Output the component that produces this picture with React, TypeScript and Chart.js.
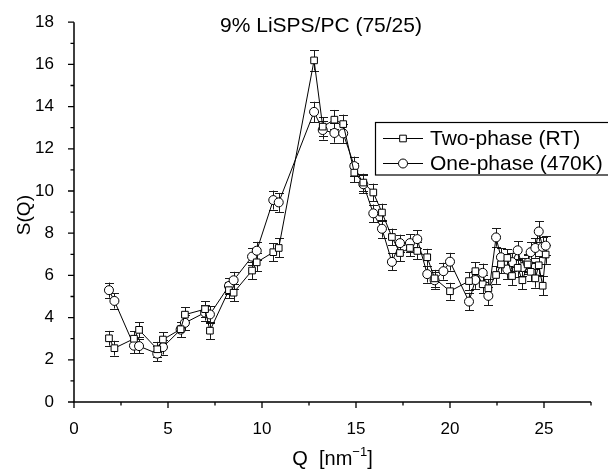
import React, { useEffect, useRef } from "react";
import { Chart, registerables } from "chart.js";

Chart.register(...registerables);

// ---- data ----
const Q = [
  1.86, 2.15, 3.19, 3.46, 4.43, 4.73, 5.67, 5.9, 6.97, 7.23, 8.24, 8.49,
  9.47, 9.72, 10.6, 10.89, 12.77, 13.23, 13.85, 14.32, 14.91, 15.39, 15.92, 16.38,
  16.91, 17.34, 17.87, 18.26, 18.79, 19.18, 19.65, 20.0, 21.01, 21.35, 21.74, 22.04,
  22.45, 22.71, 23.05, 23.3, 23.6, 23.85, 24.13, 24.29, 24.54, 24.72, 24.93, 25.09,
];

const twoPhase: (number | null)[] = [
  3.02, 2.55, 3.0, 3.42, 2.5, 2.96, 3.45, 4.14, 4.4, 3.38, 5.3, 5.18,
  6.23, 6.62, 7.1, 7.3, 16.19, 13.05, 13.38, 13.17, 10.87, 10.4, 9.93, 8.98,
  7.82, 7.06, 7.3, 7.16, 6.86, 5.86, null, 5.25, 5.73, 6.2, 5.58, 5.39,
  6.02, 6.52, 6.83, 5.97, 6.36, 5.77, 6.52, 6.17, 5.86, 6.48, 5.51, 6.99,
];
const twoPhaseErr = [
  0.35, 0.35, 0.35, 0.35, 0.35, 0.35, 0.35, 0.36, 0.38, 0.4, 0.38, 0.4,
  0.4, 0.42, 0.42, 0.45, 0.48, 0.45, 0.46, 0.45, 0.45, 0.42, 0.42, 0.42,
  0.4, 0.4, 0.4, 0.4, 0.4, 0.4, 0.4, 0.4, 0.42, 0.42, 0.42, 0.42,
  0.42, 0.42, 0.42, 0.42, 0.42, 0.42, 0.44, 0.44, 0.44, 0.44, 0.44, 0.44,
];

const onePhase: (number | null)[] = [
  5.3, 4.79, 2.67, 2.65, 2.29, 2.6, 3.43, 3.75, 4.24, 4.15, 5.5, 5.77,
  6.89, 7.17, 9.57, 9.46, 13.75, 12.89, 12.75, 12.73, 11.18, 10.32, 8.94, 8.21,
  6.64, 7.53, 7.53, 7.72, 6.06, 5.77, 6.2, 6.65, 4.76, 5.78, 6.12, 5.03,
  7.8, 6.86, 6.28, 6.63, 7.19, 6.39, 6.59, 7.1, 7.3, 8.08, 7.35, 7.41,
];
const onePhaseErr = [
  0.36, 0.36, 0.35, 0.35, 0.35, 0.35, 0.35, 0.36, 0.38, 0.4, 0.38, 0.4,
  0.42, 0.42, 0.45, 0.45, 0.48, 0.45, 0.46, 0.45, 0.45, 0.42, 0.42, 0.42,
  0.4, 0.4, 0.42, 0.42, 0.4, 0.4, 0.4, 0.42, 0.42, 0.42, 0.44, 0.44,
  0.44, 0.44, 0.44, 0.44, 0.44, 0.44, 0.44, 0.46, 0.46, 0.48, 0.46, 0.46,
];

const seriesLabels = ["Two-phase (RT)", "One-phase (470K)"];
const chartTitle = "9% LiSPS/PC (75/25)";
const yTitle = "S(Q)";
const xTitleMain = "Q  [nm";
const xTitleSup = "\u22121";
const xTitleEnd = "]";
const xRange = [0, 27.5];
const yRange = [0, 18];
const xMajorStep = 5;
const yMajorStep = 2;

const FONT = '"Liberation Sans", Arial, Helvetica, sans-serif';
const INK = "#000000";

function drawSquare(ctx: CanvasRenderingContext2D, x: number, y: number, r: number) {
  const s = r * Math.SQRT1_2;
  ctx.beginPath();
  ctx.rect(x - s, y - s, 2 * s, 2 * s);
  ctx.fillStyle = "#fff";
  ctx.fill();
  ctx.stroke();
}
function drawCircle(ctx: CanvasRenderingContext2D, x: number, y: number, r: number) {
  ctx.beginPath();
  ctx.arc(x, y, r, 0, Math.PI * 2);
  ctx.fillStyle = "#fff";
  ctx.fill();
  ctx.stroke();
}

const decorPlugin = {
  id: "decor",
  beforeDatasetsDraw(chart: any) {
    const ctx: CanvasRenderingContext2D = chart.ctx;
    const xs = chart.scales.x;
    const ys = chart.scales.y;
    const sets: [(number | null)[], number[]][] = [
      [twoPhase, twoPhaseErr],
      [onePhase, onePhaseErr],
    ];
    ctx.save();
    ctx.strokeStyle = "#1a1a1a";
    ctx.lineWidth = 1;
    sets.forEach(([vals, errs]) => {
      vals.forEach((v, i) => {
        if (v == null) return;
        const e = errs[i];
        const px = Math.round(xs.getPixelForValue(Q[i])) + 0.5;
        const top = ys.getPixelForValue(v + e);
        const bot = ys.getPixelForValue(v - e);
        ctx.beginPath();
        ctx.moveTo(px, top);
        ctx.lineTo(px, bot);
        ctx.moveTo(px - 4.5, Math.round(top) + 0.5);
        ctx.lineTo(px + 4.5, Math.round(top) + 0.5);
        ctx.moveTo(px - 4.5, Math.round(bot) + 0.5);
        ctx.lineTo(px + 4.5, Math.round(bot) + 0.5);
        ctx.stroke();
      });
    });
    ctx.restore();
  },
  afterDraw(chart: any) {
    const ctx: CanvasRenderingContext2D = chart.ctx;
    const xs = chart.scales.x;
    const ys = chart.scales.y;
    const area = chart.chartArea;
    ctx.save();
    // axes
    ctx.strokeStyle = INK;
    ctx.lineWidth = 1.5;
    ctx.beginPath();
    ctx.moveTo(area.left, area.top);
    ctx.lineTo(area.left, area.bottom);
    ctx.lineTo(area.right, area.bottom);
    ctx.stroke();
    // ticks
    ctx.lineWidth = 1.3;
    ctx.beginPath();
    for (let v = xRange[0]; v <= xRange[1] + 1e-9; v += xMajorStep / 2) {
      const px = xs.getPixelForValue(v);
      const major = Math.abs(v / xMajorStep - Math.round(v / xMajorStep)) < 1e-6;
      ctx.moveTo(px, area.bottom);
      ctx.lineTo(px, area.bottom + (major ? 6 : 3.5));
    }
    for (let v = yRange[0]; v <= yRange[1] + 1e-9; v += yMajorStep / 2) {
      const py = ys.getPixelForValue(v);
      const major = Math.abs(v / yMajorStep - Math.round(v / yMajorStep)) < 1e-6;
      ctx.moveTo(area.left, py);
      ctx.lineTo(area.left - (major ? 6 : 3.5), py);
    }
    ctx.stroke();

    // chart title
    ctx.fillStyle = INK;
    ctx.font = `21px ${FONT}`;
    ctx.textAlign = "center";
    ctx.textBaseline = "alphabetic";
    ctx.fillText(chartTitle, 321, 32);

    // y title
    ctx.save();
    ctx.translate(25, (area.top + area.bottom) / 2 + 3);
    ctx.rotate(-Math.PI / 2);
    ctx.font = `19px ${FONT}`;
    ctx.textAlign = "center";
    ctx.textBaseline = "middle";
    ctx.fillText(yTitle, 0, 0);
    ctx.restore();

    // x title with superscript
    ctx.textAlign = "left";
    ctx.textBaseline = "alphabetic";
    ctx.font = `20px ${FONT}`;
    const w1 = ctx.measureText(xTitleMain).width;
    const w3 = ctx.measureText(xTitleEnd).width;
    ctx.font = `13px ${FONT}`;
    const w2 = ctx.measureText(xTitleSup).width;
    const total = w1 + w2 + w3;
    const cx = (area.left + area.right) / 2;
    let tx = cx - total / 2;
    const base = 465;
    ctx.font = `20px ${FONT}`;
    ctx.fillText(xTitleMain, tx, base);
    tx += w1;
    ctx.font = `13px ${FONT}`;
    ctx.fillText(xTitleSup, tx, base - 9);
    tx += w2;
    ctx.font = `20px ${FONT}`;
    ctx.fillText(xTitleEnd, tx, base);

    // legend
    const lx = 375.5, ly = 122.5, lw = 260, lh = 52.5;
    ctx.fillStyle = "#fff";
    ctx.fillRect(lx, ly, lw, lh);
    ctx.strokeStyle = INK;
    ctx.lineWidth = 1.2;
    ctx.strokeRect(lx, ly, lw, lh);
    const rows = [138.5, 163.5];
    ctx.lineWidth = 1;
    rows.forEach((ry, i) => {
      ctx.strokeStyle = INK;
      ctx.beginPath();
      ctx.moveTo(383, ry);
      ctx.lineTo(423, ry);
      ctx.stroke();
      if (i === 0) drawSquare(ctx, 403, ry, 4.7);
      else drawCircle(ctx, 403, ry, 4.5);
      ctx.fillStyle = INK;
      ctx.font = `21px ${FONT}`;
      ctx.textAlign = "left";
      ctx.textBaseline = "middle";
      ctx.fillText(seriesLabels[i], 430, ry + 1);
    });
    ctx.restore();
  },
};

export default function App() {
  const ref = useRef<HTMLCanvasElement | null>(null);
  useEffect(() => {
    if (!ref.current) return;
    const common = {
      borderColor: INK,
      borderWidth: 1,
      backgroundColor: "#fff",
      pointBackgroundColor: "#fff",
      pointBorderColor: INK,
      pointBorderWidth: 1,
      tension: 0,
      fill: false,
      spanGaps: true,
    };
    const chart = new Chart(ref.current, {
      type: "line",
      data: {
        datasets: [
          {
            ...common,
            label: seriesLabels[0],
            data: Q.map((x, i) => ({ x, y: twoPhase[i] })) as any,
            pointStyle: "rect",
            pointRadius: 4.7,
          },
          {
            ...common,
            label: seriesLabels[1],
            data: Q.map((x, i) => ({ x, y: onePhase[i] })) as any,
            pointStyle: "circle",
            pointRadius: 4.5,
          },
        ],
      },
      options: {
        animation: false,
        responsive: false,
        maintainAspectRatio: false,
        layout: { padding: { top: 19, right: 17, left: 0, bottom: 0 } },
        plugins: {
          legend: { display: false },
          title: { display: false },
          tooltip: { enabled: false },
        },
        scales: {
          x: {
            type: "linear",
            min: xRange[0],
            max: xRange[1],
            grid: { display: false },
            border: { display: false },
            ticks: {
              stepSize: xMajorStep,
              includeBounds: false,
              color: INK,
              padding: 9.5,
              maxRotation: 0,
              font: { family: FONT, size: 17 },
            },
            afterFit: (s: any) => {
              s.height = 74;
            },
          },
          y: {
            type: "linear",
            min: yRange[0],
            max: yRange[1],
            grid: { display: false },
            border: { display: false },
            ticks: {
              stepSize: yMajorStep,
              color: INK,
              padding: 12,
              font: { family: FONT, size: 17 },
            },
            afterFit: (s: any) => {
              s.width = 74;
            },
          },
        },
      },
      plugins: [decorPlugin],
    });
    return () => chart.destroy();
  }, []);
  return (
    <div style={{ position: "absolute", left: 0, top: 0, width: 608, height: 476, background: "#fff" }}>
      <canvas ref={ref} width={608} height={476} style={{ display: "block" }} />
    </div>
  );
}
